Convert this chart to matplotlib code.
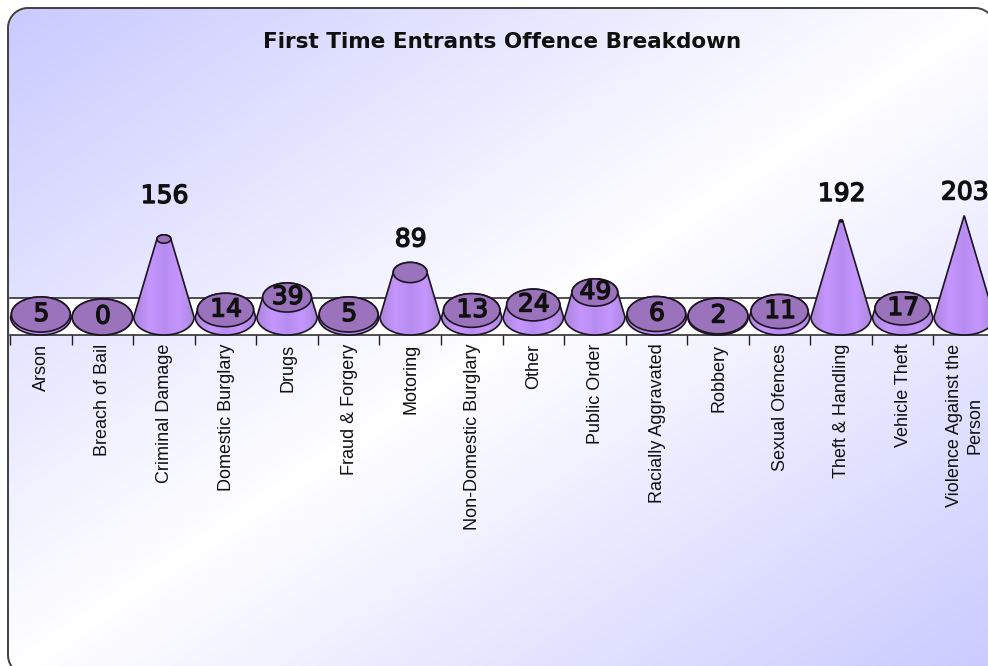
import numpy as np
import matplotlib
matplotlib.use("Agg")
import matplotlib.pyplot as plt
import matplotlib.patheffects as pe
from matplotlib.patches import Polygon, Ellipse
from matplotlib.colors import LinearSegmentedColormap

categories = ["Arson", "Breach of Bail", "Criminal Damage", "Domestic Burglary", "Drugs",
              "Fraud & Forgery", "Motoring", "Non-Domestic Burglary", "Other", "Public Order",
              "Racially Aggravated", "Robbery", "Sexual Ofences", "Theft & Handling",
              "Vehicle Theft", "Violence Against the\nPerson"]
values = [5, 0, 156, 14, 39, 5, 89, 13, 24, 49, 6, 2, 11, 192, 17, 203]

W, H = 988, 666
fig = plt.figure(figsize=(W / 100, H / 100), dpi=100)
fig.patch.set_facecolor("white")

# background panel with diagonal gradient
bg = fig.add_axes([0, 0, 1, 1])
bg.axis("off")
yy, xx = np.mgrid[0:1:300j, 0:1:300j]
t = (xx + yy) / 2
bg_cmap = LinearSegmentedColormap.from_list("bg", ["#caCaff", "#ffffff", "#caCaff"])
im = bg.imshow(t, cmap=bg_cmap, extent=[8, 995, 675, 8], aspect="auto", vmin=0, vmax=1)

# rounded outline, the right and bottom edges run off the canvas
r = 20
pts = []
for cx, cy, a0 in [(8 + r, 8 + r, 180), (995 - r, 8 + r, 270), (995 - r, 675 - r, 0), (8 + r, 675 - r, 90)]:
    a = np.radians(np.linspace(a0, a0 + 90, 20))
    pts += list(zip(cx + r * np.cos(a), cy + r * np.sin(a)))
panel = Polygon(pts, closed=True, fc="none", ec="#404040", lw=1.4)
bg.add_patch(panel)
im.set_clip_path(panel)
bg.set_xlim(0, W)
bg.set_ylim(H, 0)

# plot axes: value 0 sits in the middle of the base ellipses
left, right, top, bottom = 10, 995, 298, 335
ax = fig.add_axes([left / W, 1 - bottom / H, (right - left) / W, (bottom - top) / H])
ax.set_facecolor("white")
for s in ["left", "right"]:
    ax.spines[s].set_visible(False)
for s in ["top", "bottom"]:
    ax.spines[s].set_color("#202020")
    ax.spines[s].set_linewidth(1.1)
ax.set_yticks([])
ax.set_xticks(np.arange(-0.5, 16, 1))
ax.set_xticklabels([])
ax.tick_params(axis="x", length=7, width=1, color="#202020")

body_cmap = LinearSegmentedColormap.from_list("body", ["#aa86d8", "#c596ff", "#b78cf0", "#c596ff", "#aa86d8"])
base_hw, base_ry = 0.49, 36
vmax = max(values)
arc = np.linspace(0, np.pi, 60)
big_gap = {2: 86, 6: 66, 13: 54, 15: 46}
stroke = [pe.withStroke(linewidth=1.0, foreground="#101010")]

for i, v in enumerate(values):
    k = 1 - v / vmax
    hw, ry = base_hw * k, base_ry * k
    xs = np.concatenate([i - base_hw * np.cos(arc), i + hw * np.cos(arc)])
    ys = np.concatenate([-base_ry * np.sin(arc), v + ry * np.sin(arc)])
    body = Polygon(np.column_stack([xs, ys]), closed=True, fc="none", ec="#1c1420", lw=1.2,
                   zorder=4, clip_on=False)
    ax.add_patch(body)
    g = ax.imshow(np.linspace(0, 1, 100)[None, :], cmap=body_cmap, aspect="auto", zorder=3,
                  extent=[i - base_hw, i + base_hw, -base_ry, v + ry + 1])
    g.set_clip_box(fig.bbox)
    g.set_clip_path(body)
    ax.add_patch(Ellipse((i, v), 2 * hw, 2 * ry, fc="#9b73bd", ec="#1c1420", lw=1.2, zorder=5,
                         clip_on=False))
    label_y = v + big_gap[i] if i in big_gap else v + 1
    ax.text(i + 0.01, label_y, str(v), ha="center", va="center", fontsize=18,
            family="DejaVu Sans", color="#101010", zorder=6, clip_on=False, path_effects=stroke)
    ax.text(i + 0.01, -53, categories[i], rotation=90, ha="center", va="top", fontsize=13, linespacing=1.3,
            family="Liberation Sans", color="#101010", clip_on=False, multialignment="center")

ax.set_xlim(-0.5, 15.5)
ax.set_ylim(-36, 38)

fig.text(502 / W, 1 - 42 / H, "First Time Entrants Offence Breakdown", ha="center", va="center",
         fontsize=15.5, fontweight="bold", family="DejaVu Sans", color="#101010")

fig.savefig("out.png", dpi=100)
